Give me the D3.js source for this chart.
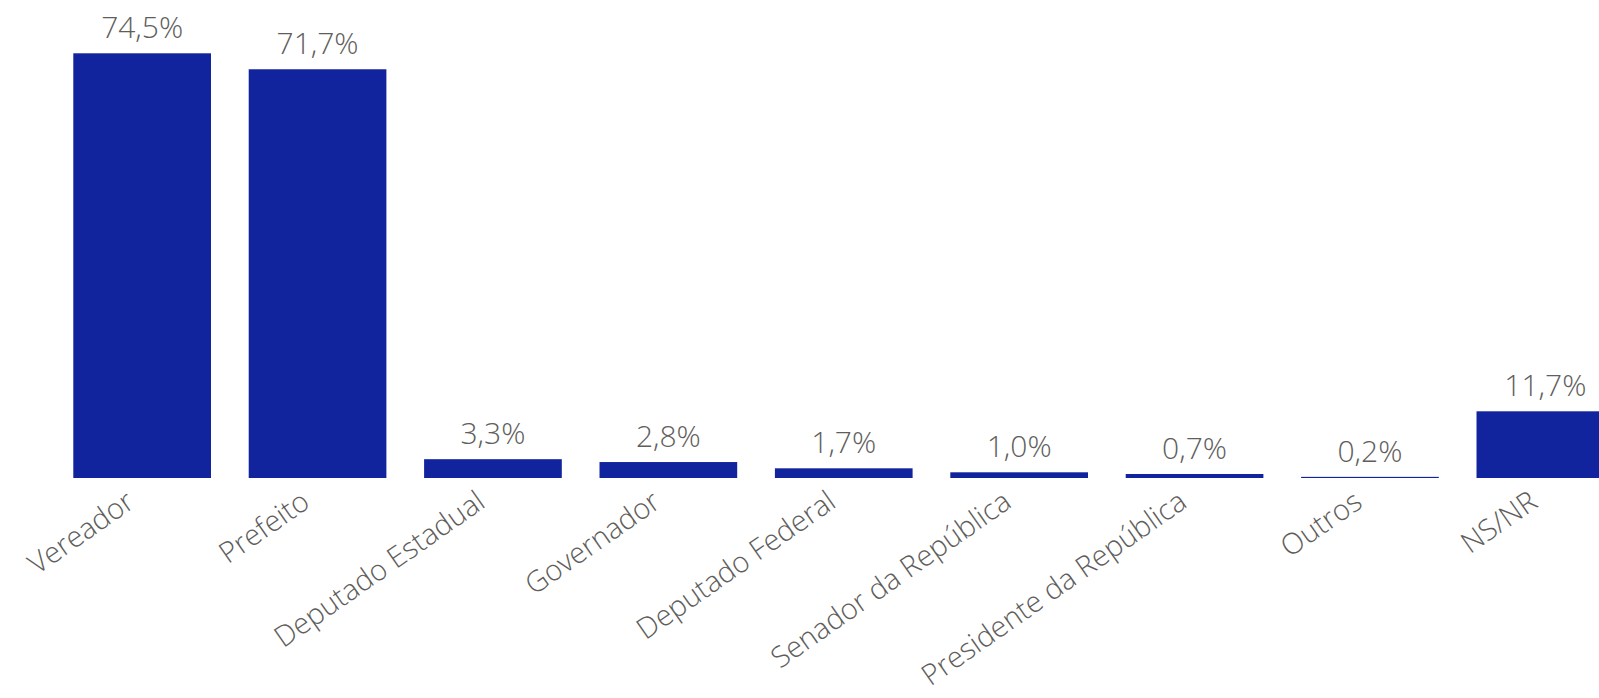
<!DOCTYPE html>
<html><head><meta charset="utf-8">
<script src="https://cdn.jsdelivr.net/npm/d3@7"></script>
<style>
html,body{margin:0;padding:0;background:#fff;overflow:hidden}
text{font-family:"Segoe UI","Open Sans","Noto Sans",sans-serif;fill:#605E5C;font-weight:350}
</style></head>
<body><svg id="c" width="1599" height="698"></svg>
<script>
const categories = ["Vereador","Prefeito","Deputado Estadual","Governador","Deputado Federal","Senador da República","Presidente da República","Outros","NS/NR"];
const values = [74.5,71.7,3.3,2.8,1.7,1.0,0.7,0.2,11.7];
const valueLabels = ["74,5%","71,7%","3,3%","2,8%","1,7%","1,0%","0,7%","0,2%","11,7%"];

const svg = d3.select("#c");
const baseY = 478;
const x = d3.scaleBand().domain(categories).range([73.3, 1614.2]).paddingInner(0.215).paddingOuter(0);
const y = d3.scaleLinear().domain([0, 74.5]).range([baseY, 53.3]);

const g = svg.append("g");
g.selectAll("rect.bar").data(categories).join("rect")
  .attr("class","bar")
  .attr("x", d => x(d))
  .attr("width", x.bandwidth())
  .attr("y", (d,i) => y(values[i]))
  .attr("height", (d,i) => baseY - y(values[i]))
  .attr("fill", "#12239E");

g.selectAll("text.val").data(categories).join("text")
  .attr("class","val")
  .attr("x", d => x(d) + x.bandwidth()/2)
  .attr("y", (d,i) => y(values[i]) - 15)
  .attr("text-anchor","middle")
  .style("font-size","30px")
  .text((d,i) => valueLabels[i]);

const xAxis = d3.axisBottom(x).tickSize(0).tickPadding(0);
const ax = svg.append("g").attr("transform", `translate(0,${baseY})`).call(xAxis);
ax.select(".domain").remove();
ax.selectAll(".tick text")
  .attr("y", 0).attr("dy", 0)
  .attr("transform", "translate(-6,28) rotate(-35)")
  .attr("text-anchor", "end")
  .style("font-size","29px")
  .style("font-weight","350")
  .style("font-family",'"Segoe UI","Open Sans","Noto Sans",sans-serif')
  .attr("fill","#605E5C");
</script></body></html>
